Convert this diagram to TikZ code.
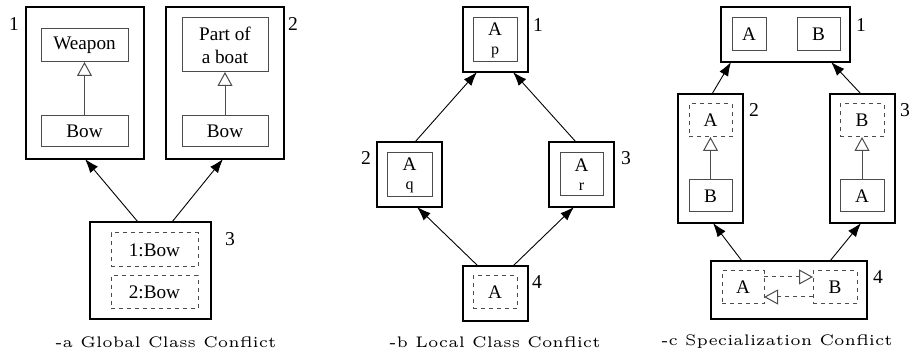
\documentclass[tikz,border=0pt]{standalone}
\usepackage{fontspec}
\newfontfamily\tms{Liberation Serif}
\usetikzlibrary{arrows.meta,calc}
\begin{document}
\begin{tikzpicture}[x=0.5pt,y=-0.5pt,
  every node/.style={inner sep=0pt,outer sep=0pt,font=\tms\fontsize{9.6}{11.4}\selectfont,align=center},
  sz/.style 2 args={minimum width=#1*0.5pt,minimum height=#2*0.5pt},
  pkg/.style={draw,line width=1pt},
  cls/.style={draw=black!70,line width=0.5pt},
  dcls/.style={cls,dash pattern=on 2pt off 2pt},
  conn/.style={-{Latex[length=7pt,width=5pt]},line width=0.45pt},
  inh/.style={draw=black!70,line width=0.5pt,-{Triangle[length=7pt,width=7.5pt,fill=white]}},
  dinh/.style={inh,dash pattern=on 2pt off 2pt},
  num/.style={font=\tms\fontsize{9.8}{11.4}\selectfont},
  captxt/.style={font=\fontfamily{lmr}\fontsize{5}{6}\selectfont}
]
\useasboundingbox (0,0) rectangle (913,356);

% ---------- panel a ----------
\node[pkg,sz={118}{152}] (a1) at (85,83) {};
\node[cls,sz={87}{33}] (aw) at (84.5,45.5) {Weapon};
\node[cls,sz={87}{31}] (ab1) at (84.5,131.5) {Bow};
\draw[inh] (ab1) -- (aw);
\node[num] (an1) at (14,24) {1};

\node[pkg,sz={118}{152}] (a2) at (225,83) {};
\node[cls,sz={86}{54}] (ap) at (225,45) {Part of\\a boat};
\node[cls,sz={86}{31}] (ab2) at (225,131.5) {Bow};
\draw[inh] (ab2) -- (ap);
\node[num] (an2) at (293,24) {2};

\node[pkg,sz={121}{97}] (a3) at (150.5,270.5) {};
\node[dcls,sz={87}{34}] (a31) at (154.5,250) {1:Bow};
\node[dcls,sz={87}{33}] (a32) at (154.5,292.5) {2:Bow};
\node[num] (an3) at (230,239) {3};

\draw[conn] ($(a3.north)+(-12.5,0)$) -- (a1.south);
\draw[conn] ($(a3.north)+(21.5,0)$) -- ($(a2.south)+(-2,0)$);

\node[captxt] (capa) at (166,342) {\scalebox{1.53}{-a Global Class Conflict}};

% ---------- panel b ----------
\node[pkg,sz={65}{65}] (b1) at (495.5,39.5) {};
\node[cls,sz={44}{44}] (b1i) at (495,40) {A\\[-2pt]{\fontsize{8}{9}\selectfont p}};
\node[num] (bn1) at (538,25) {1};

\node[pkg,sz={65}{65}] (b2) at (409.5,174.5) {};
\node[cls,sz={45}{44}] (b2i) at (409.5,175) {A\\[-2pt]{\fontsize{8}{9}\selectfont q}};
\node[num] (bn2) at (366,158) {2};

\node[pkg,sz={65}{65}] (b3) at (581.5,174.5) {};
\node[cls,sz={43}{43}] (b3i) at (581.5,174.5) {A\\[-2pt]{\fontsize{8}{9}\selectfont r}};
\node[num] (bn3) at (626,158) {3};

\node[pkg,sz={65}{55}] (b4) at (495.5,293.5) {};
\node[dcls,sz={44}{33}] (b4i) at (495,292.5) {A};
\node[num] (bn4) at (537,282) {4};

\draw[conn] ($(b2.north)+(5.5,0)$) -- ($(b1.south)+(-18.5,0)$);
\draw[conn] ($(b3.north)+(-5.5,0)$) -- ($(b1.south)+(17.5,0)$);
\draw[conn] ($(b4.north)+(-17.5,0)$) -- ($(b2.south)+(7.5,0)$);
\draw[conn] ($(b4.north)+(17.5,0)$) -- ($(b3.south)+(-7.5,0)$);

\node[captxt] (capb) at (495,342) {\scalebox{1.53}{-b Local Class Conflict}};

% ---------- panel c ----------
\node[pkg,sz={129}{55}] (c1) at (785.5,34.5) {};
\node[cls,sz={34}{33}] (c1a) at (749,34.5) {A};
\node[cls,sz={43}{33}] (c1b) at (818.5,34.5) {B};
\node[num] (cn1) at (861,25) {1};

\node[pkg,sz={65}{129}] (c2) at (710.5,158.5) {};
\node[dcls,sz={43}{33}] (c2a) at (710.5,120.5) {A};
\node[cls,sz={43}{32}] (c2b) at (710.5,196) {B};
\draw[inh] (c2b) -- (c2a);
\node[num] (cn2) at (754,110) {2};

\node[pkg,sz={65}{129}] (c3) at (862.5,158.5) {};
\node[dcls,sz={44}{33}] (c3b) at (862,120.5) {B};
\node[cls,sz={44}{32}] (c3a) at (862,196) {A};
\draw[inh] (c3a) -- (c3b);
\node[num] (cn3) at (905,110) {3};

\node[pkg,sz={156}{58}] (c4) at (789,290) {};
\node[dcls,sz={42}{33}] (c4a) at (743,287.5) {A};
\node[dcls,sz={44}{33}] (c4b) at (835,287.5) {B};
\draw[dinh] ($(c4a.east)+(0,-10.5)$) -- ($(c4b.west)+(0,-10.5)$);
\draw[dinh] ($(c4b.west)+(0,9.5)$) -- ($(c4a.east)+(0,9.5)$);
\node[num] (cn4) at (878,277) {4};

\draw[conn] ($(c2.north)+(1.5,0)$) -- ($(c1.south)+(-54.5,0)$);
\draw[conn] ($(c3.north)+(-1.5,0)$) -- ($(c1.south)+(45.5,0)$);
\draw[conn] ($(c4.north)+(-47,0)$) -- ($(c2.south)+(2.5,0)$);
\draw[conn] ($(c4.north)+(41,0)$) -- ($(c3.south)+(-1.5,0)$);

\node[captxt] (capc) at (777,342) {\scalebox{1.53}{-c Specialization Conflict}};
\end{tikzpicture}
\end{document}
